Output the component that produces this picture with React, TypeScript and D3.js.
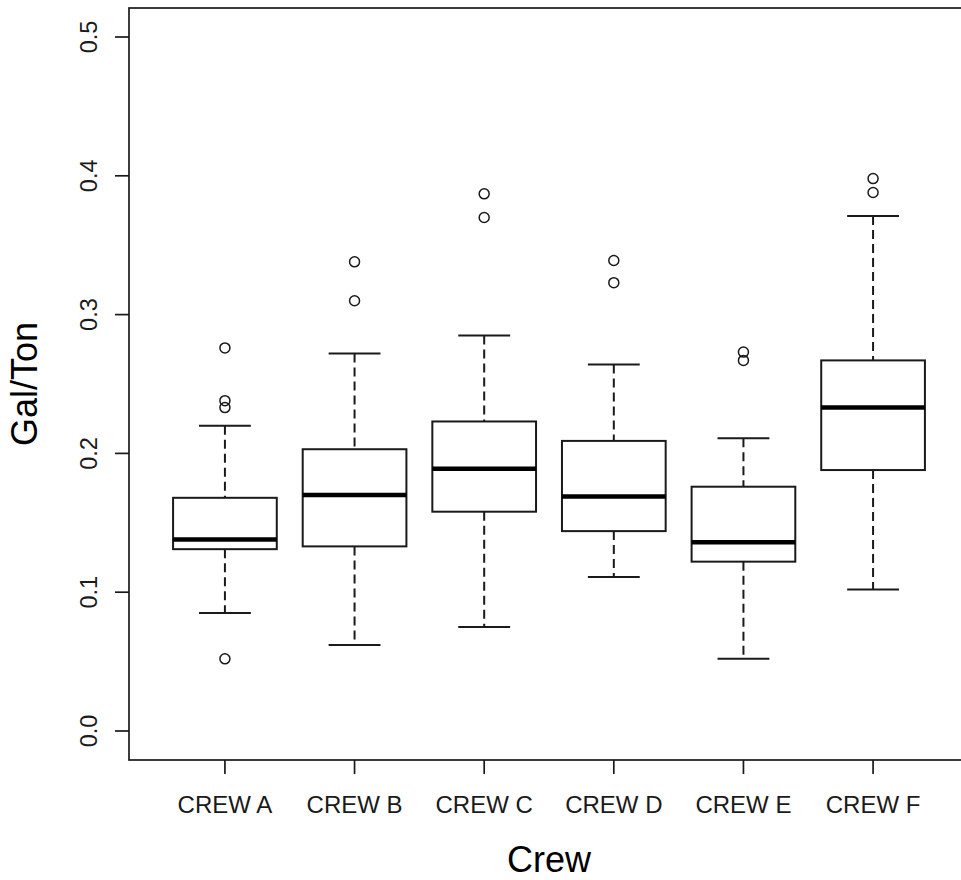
import React from "react";
import * as d3 from "d3";

// crew boxplot summary
const crews = ["CREW A", "CREW B", "CREW C", "CREW D", "CREW E", "CREW F"];
const whiskerLow = [0.085, 0.062, 0.075, 0.111, 0.052, 0.102];
const q1 = [0.131, 0.133, 0.158, 0.144, 0.122, 0.188];
const medians = [0.138, 0.170, 0.189, 0.169, 0.136, 0.233];
const q3 = [0.168, 0.203, 0.223, 0.209, 0.176, 0.267];
const whiskerHigh = [0.220, 0.272, 0.285, 0.264, 0.211, 0.371];
const outliers = [
  [0.052, 0.233, 0.238, 0.276],
  [0.310, 0.338],
  [0.370, 0.387],
  [0.323, 0.339],
  [0.267, 0.273],
  [0.388, 0.398],
];
const yTicks = [0.0, 0.1, 0.2, 0.3, 0.4, 0.5];

const W = 961;
const H = 880;
const plot = { left: 129, right: 969, top: 8, bottom: 760 };
const font = "'Liberation Sans', Arial, sans-serif";
const ink = "#1a1a1a";

export default function App() {
  const x = d3.scaleLinear().domain([0.26, crews.length + 0.74]).range([plot.left, plot.right]);
  const y = d3.scaleLinear().domain([-0.0209, 0.5209]).range([plot.bottom, plot.top]);

  const step = x(2) - x(1);
  const boxW = step * 0.8;
  const capW = boxW / 2;

  return (
    <svg width={W} height={H} style={{ position: "absolute", left: 0, top: 0, background: "#fff" }}>
      <rect x={0} y={0} width={W} height={H} fill="#fff" />

      {crews.map((c, i) => {
        const cx = x(i + 1);
        return (
          <g key={c} stroke={ink} fill="none">
            {/* whiskers */}
            <line x1={cx} x2={cx} y1={y(whiskerHigh[i])} y2={y(q3[i])} strokeWidth={2} strokeDasharray="9,5" />
            <line x1={cx} x2={cx} y1={y(q1[i])} y2={y(whiskerLow[i])} strokeWidth={2} strokeDasharray="9,5" />
            <line x1={cx - capW / 2} x2={cx + capW / 2} y1={y(whiskerHigh[i])} y2={y(whiskerHigh[i])} strokeWidth={2} />
            <line x1={cx - capW / 2} x2={cx + capW / 2} y1={y(whiskerLow[i])} y2={y(whiskerLow[i])} strokeWidth={2} />
            {/* box */}
            <rect x={cx - boxW / 2} y={y(q3[i])} width={boxW} height={y(q1[i]) - y(q3[i])} fill="#fff" strokeWidth={2} />
            <line x1={cx - boxW / 2} x2={cx + boxW / 2} y1={y(medians[i])} y2={y(medians[i])} stroke="#000" strokeWidth={4.5} />
            {outliers[i].map((v, j) => (
              <circle key={j} cx={cx} cy={y(v)} r={5} strokeWidth={1.5} />
            ))}
          </g>
        );
      })}

      {/* plot frame */}
      <rect
        x={plot.left}
        y={plot.top}
        width={plot.right - plot.left}
        height={plot.bottom - plot.top}
        fill="none"
        stroke={ink}
        strokeWidth={1.7}
      />

      {/* y axis */}
      {yTicks.map((t) => (
        <g key={t}>
          <line x1={plot.left - 14} x2={plot.left} y1={y(t)} y2={y(t)} stroke={ink} strokeWidth={1.7} />
          <text
            transform={`translate(97, ${y(t)}) rotate(-90)`}
            textAnchor="middle"
            fontFamily={font}
            fontSize={23.5}
            fill={ink}
          >
            {t.toFixed(1)}
          </text>
        </g>
      ))}

      {/* x axis */}
      {crews.map((c, i) => (
        <g key={c}>
          <line x1={x(i + 1)} x2={x(i + 1)} y1={plot.bottom} y2={plot.bottom + 14} stroke={ink} strokeWidth={1.7} />
          <text x={x(i + 1)} y={813} textAnchor="middle" fontFamily={font} fontSize={24} fill={ink}>
            {c}
          </text>
        </g>
      ))}

      <text x={(plot.left + plot.right) / 2} y={872} textAnchor="middle" fontFamily={font} fontSize={36} fill="#000">
        Crew
      </text>
      <text
        transform={`translate(37, ${(plot.top + plot.bottom) / 2}) rotate(-90)`}
        textAnchor="middle"
        fontFamily={font}
        fontSize={36}
        fill="#000"
      >
        Gal/Ton
      </text>
    </svg>
  );
}
